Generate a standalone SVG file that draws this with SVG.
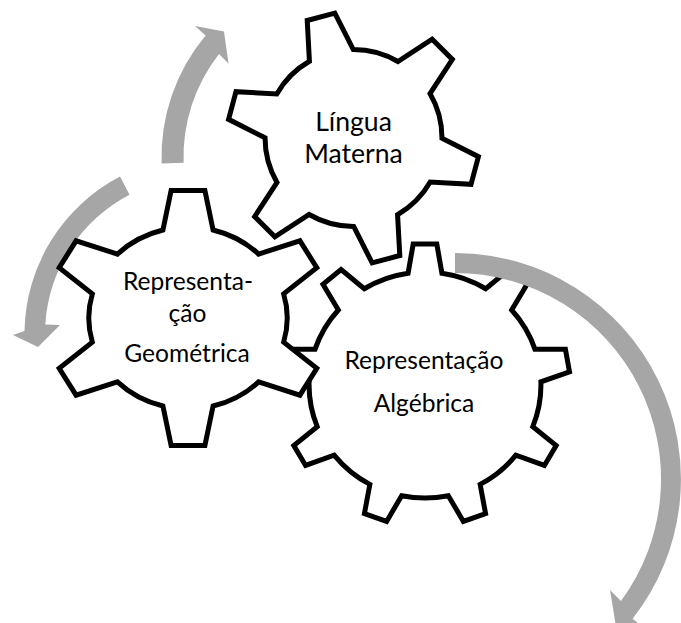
<svg xmlns="http://www.w3.org/2000/svg" width="681" height="623" viewBox="0 0 681 623">
  <style>
    .gear { fill: #ffffff; stroke: #000000; stroke-width: 5; stroke-linejoin: miter; stroke-miterlimit: 10; }
    .arrow { fill: #a6a6a6; stroke: none; }
    .label { font-family: Lato, "Open Sans", "DejaVu Sans", sans-serif; fill: #000000; text-anchor: middle; }
    .s26 { font-size: 24.6px; }
    .s28 { font-size: 26.6px; }
  </style>
  <rect width="681" height="623" fill="#ffffff"/>

  <!-- large nine-tooth gear -->
  <g id="gear-algebrica">
    <path class="gear" d="M 408.07,273.21 L 413.20,244 L 436.80,244 L 441.93,273.21
      A 115.9 113 0 0 1 485.76,288.76 L 508.95,269.60 L 527.03,284.38 L 511.69,309.97
      A 115.9 113 0 0 1 535.01,349.34 L 565.42,349.19 L 569.52,371.84 L 540.89,381.84
      A 115.9 113 0 0 1 532.80,426.61 L 556.18,445.54 L 544.39,465.46 L 515.87,455.18
      A 115.9 113 0 0 1 480.14,484.41 L 485.57,513.56 L 463.39,521.43 L 448.32,495.69
      A 115.9 113 0 0 1 401.68,495.69 L 386.61,521.43 L 364.43,513.56 L 369.86,484.41
      A 115.9 113 0 0 1 334.13,455.18 L 305.61,465.46 L 293.82,445.54 L 317.20,426.61
      A 115.9 113 0 0 1 309.11,381.84 L 280.48,371.84 L 284.58,349.19 L 314.99,349.34
      A 115.9 113 0 0 1 338.31,309.97 L 322.97,284.38 L 341.05,269.60 L 364.24,288.76
      A 115.9 113 0 0 1 408.07,273.21 Z"/>
    <text class="label s26" x="424" y="369.3">Representação</text>
    <text class="label s26" x="424" y="411.7">Algébrica</text>
  </g>

  <!-- curved rotation arrows -->
  <g id="connectors">
    <path id="arrow-algebrica" class="arrow" d="M 455,253 A 226 226 0 0 1 632.6,618.7 L 644.2,628.3 L 615.5,623.5 L 610,590 L 621.0,601.0 A 206 206 0 0 0 455,273 Z"/>
    <path id="arrow-lingua" class="arrow" d="M 161.6,163.6 A 189.5 189.5 0 0 1 205.6,35.5 L 195,26 L 224,31.5 L 228.5,63.5 L 219.0,53.9 A 167.5 167.5 0 0 0 183.6,162.8 Z"/>
    <path id="arrow-geometrica" class="arrow" d="M 120.0,176.6 A 177.5 177.5 0 0 0 24.5,330.9 L 13,335 L 38,347 L 60,325 L 45.3,324.4 A 157 157 0 0 1 129.5,194.7 Z"/>
  </g>

  <!-- upper six-tooth gear, turned 15 degrees -->
  <g id="gear-lingua">
    <path class="gear" d="M 309.44,61.29 L 307.21,20.48 L 334.83,13.08 L 353.30,49.54
      A 88.46 88.46 0 0 1 397.91,61.49 L 432.13,39.15 L 452.35,59.37 L 430.01,93.59
      A 88.46 88.46 0 0 1 441.96,138.20 L 478.43,156.67 L 471.02,184.30 L 430.21,182.06
      A 88.46 88.46 0 0 1 397.56,214.71 L 399.80,255.52 L 372.17,262.93 L 353.70,226.46
      A 88.46 88.46 0 0 1 309.09,214.51 L 274.87,236.85 L 254.65,216.63 L 276.99,182.41
      A 88.46 88.46 0 0 1 265.04,137.80 L 228.58,119.33 L 235.98,91.71 L 276.79,93.94
      A 88.46 88.46 0 0 1 309.44,61.29 Z"/>
    <text class="label s28" x="353.5" y="131">Língua</text>
    <text class="label s28" x="353.5" y="163.3">Materna</text>
  </g>

  <!-- left six-tooth gear -->
  <g id="gear-geometrica">
    <path class="gear" d="M 162.93,229.95 L 171.11,190.5 L 204.90,190.5 L 213.07,229.95
      A 99.19 91 0 0 1 258.58,254.06 L 299.91,240.83 L 316.80,267.67 L 283.65,293.89
      A 99.19 91 0 0 1 283.65,342.11 L 316.80,368.33 L 299.91,395.17 L 258.58,381.94
      A 99.19 91 0 0 1 213.07,406.05 L 204.90,445.5 L 171.11,445.5 L 162.93,406.05
      A 99.19 91 0 0 1 117.42,381.94 L 76.09,395.17 L 59.20,368.33 L 92.35,342.11
      A 99.19 91 0 0 1 92.35,293.89 L 59.20,267.67 L 76.09,240.83 L 117.42,254.06
      A 99.19 91 0 0 1 162.93,229.95 Z"/>
    <text class="label s26" x="188" y="290">Representa-</text>
    <text class="label s26" x="187.5" y="321.7">ção</text>
    <text class="label s26" x="187" y="361.7">Geométrica</text>
  </g>
</svg>
